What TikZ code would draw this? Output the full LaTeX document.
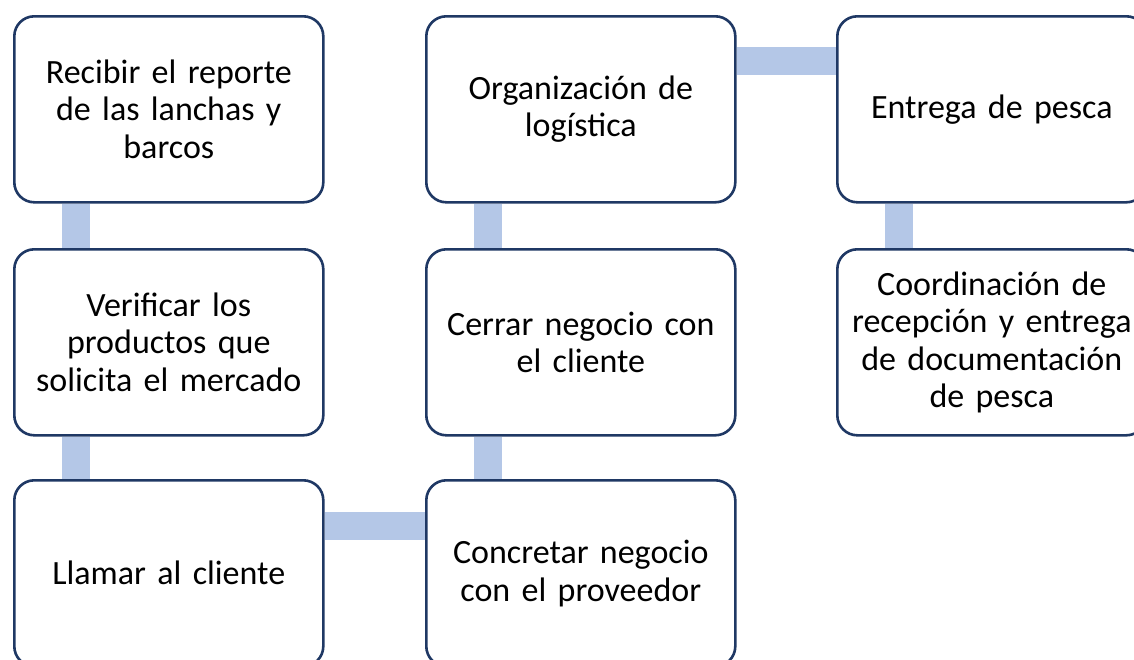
\documentclass[tikz,border=0pt]{standalone}
\usepackage{fontspec}
\setmainfont[WordSpace=0.75]{Carlito}
\usetikzlibrary{backgrounds}
\definecolor{navy}{HTML}{1F3864}
\definecolor{lightconn}{HTML}{B4C7E7}
\begin{document}
\begin{tikzpicture}[x=1pt,y=-1pt,
  stepbox/.style={draw=navy, line width=2.6pt, fill=white, rounded corners=20pt,
    minimum width=309pt, minimum height=186pt, text width=300pt, align=center,
    inner sep=0pt, anchor=north west, font=\fontsize{34}{37.5}\selectfont},
  conn/.style={draw=lightconn, line width=28pt}]
\useasboundingbox (0,0) rectangle (1134,659);
\clip (0,0) rectangle (1134,659);
\node[stepbox] (a) at (13,15) {Recibir el reporte\\de las lanchas y\\barcos};
\node[stepbox] (b) at (13,248) {Verificar los\\productos que\\solicita el mercado};
\node[stepbox] (c) at (13,479) {Llamar al cliente};
\node[stepbox] (d) at (425,479) {Concretar negocio\\con el proveedor};
\node[stepbox] (e) at (425,248) {Cerrar negocio con\\el cliente};
\node[stepbox] (f) at (425,15) {Organización de\\logística};
\node[stepbox] (g) at (836,15) {Entrega de pesca};
\node[stepbox] (h) at (836,248) {Coordinación de\\recepción y entrega\\de documentación\\de pesca};
\begin{scope}[on background layer]
\draw[conn] ([xshift=63pt]a.south west) -- ([xshift=63pt]b.north west);
\draw[conn] ([xshift=63pt]b.south west) -- ([xshift=63pt]c.north west);
\draw[conn] ([yshift=-46.5pt]c.north east) -- ([yshift=-46.5pt]d.north west);
\draw[conn] ([xshift=63pt]d.north west) -- ([xshift=63pt]e.south west);
\draw[conn] ([xshift=63pt]e.north west) -- ([xshift=63pt]f.south west);
\draw[conn] ([yshift=-46pt]f.north east) -- ([yshift=-46pt]g.north west);
\draw[conn] ([xshift=63pt]g.south west) -- ([xshift=63pt]h.north west);
\end{scope}
\end{tikzpicture}
\end{document}
